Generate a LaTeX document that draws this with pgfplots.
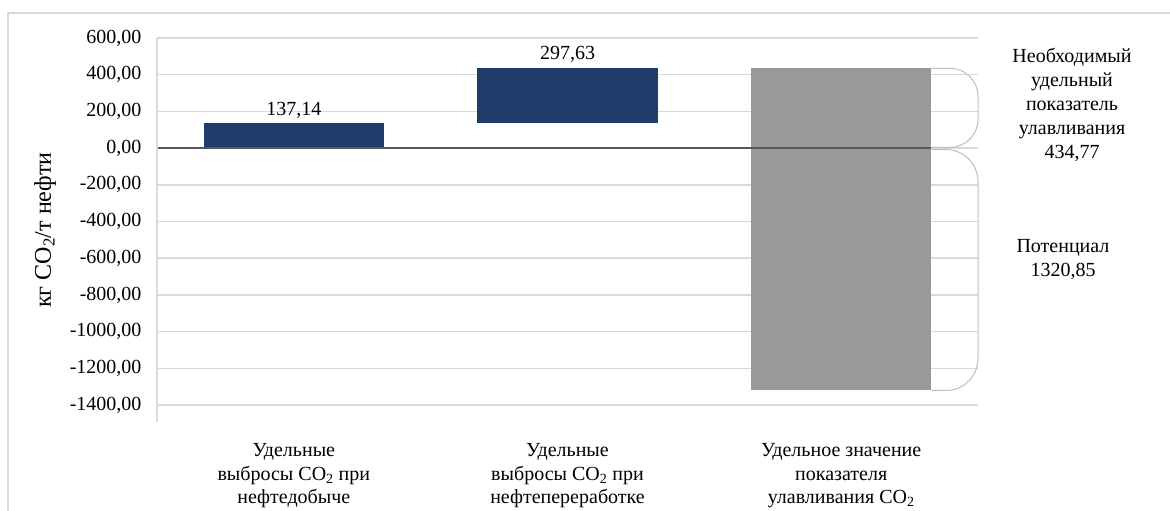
\documentclass[border=0pt]{standalone}
\usepackage{pgfplots}
\pgfplotsset{compat=1.18}
\usepackage{fontspec}
\setmainfont{Liberation Serif}
\definecolor{navy}{HTML}{1F3C6A}
\definecolor{bargray}{HTML}{97999B}
\definecolor{gridc}{HTML}{D9D9D9}
\definecolor{bracec}{HTML}{BDBDBD}
\begin{document}
\begin{tikzpicture}[x=1pt,y=1pt]
\useasboundingbox (0,0) rectangle (1170,511);
\draw[gridc, line width=1.5pt] (8,0) -- (8,498) -- (1170,498);
\begin{axis}[
  at={(157pt,106pt)}, anchor=south west,
  scale only axis, width=821pt, height=367pt,
  xmin=-0.5, xmax=2.5, ymin=-1400, ymax=600,
  clip=false,
  axis line style={draw=none},
  major tick length=0pt,
  ytick={-1400,-1200,...,600},
  xtick={0,1,2},
  xticklabels={{Удельные\\выбросы CO\textsubscript{2} при\\нефтедобыче},
               {Удельные\\выбросы CO\textsubscript{2} при\\нефтепереработке},
               {Удельное значение\\показателя\\улавливания CO\textsubscript{2}}},
  xticklabel style={align=center, font=\fontsize{20}{23.5}\selectfont, yshift=-35pt},
  yticklabel style={font=\fontsize{20}{24}\selectfont, xshift=-12pt, /pgf/number format/.cd, fixed, fixed zerofill, precision=2, use comma, 1000 sep={}},
  /pgf/number format/assume math mode=true,
  ymajorgrids,
  major grid style={gridc, line width=1.5pt},
]
\addplot[fill=navy, draw=none] coordinates {(-0.33,0) (0.33,0) (0.33,137.14) (-0.33,137.14)} -- cycle;
\addplot[fill=navy, draw=none] coordinates {(0.67,137.14) (1.33,137.14) (1.33,434.77) (0.67,434.77)} -- cycle;
\addplot[fill=bargray, draw=none] coordinates {(1.67,-1320.85) (2.33,-1320.85) (2.33,434.77) (1.67,434.77)} -- cycle;
\draw[black!65, line width=1.2pt] (axis cs:-0.5,0) -- (axis cs:2.33,0);
\draw[gridc, line width=1.5pt] (axis cs:-0.5,600) -- ([yshift=-17pt]axis cs:-0.5,-1400);
\draw[bracec, line width=1pt, rounded corners=28pt] (axis cs:2.33,434.77) -- (axis cs:2.5,434.77) -- (axis cs:2.5,4) -- (axis cs:2.33,4);
\draw[bracec, line width=1pt, rounded corners=32pt] (axis cs:2.33,-8) -- (axis cs:2.5,-8) -- (axis cs:2.5,-1320.85) -- (axis cs:2.33,-1320.85);
\node[anchor=south, font=\fontsize{20}{24}\selectfont, inner sep=4pt] at (axis cs:0,137.14) {137,14};
\node[anchor=south, font=\fontsize{20}{24}\selectfont, inner sep=6pt] at (axis cs:1,434.77) {297,63};
\end{axis}
\node[align=center, font=\fontsize{20}{24}\selectfont] at (1072,406) {Необходимый\\удельный\\показатель\\улавливания\\434,77};
\node[align=center, font=\fontsize{20}{24}\selectfont] at (1063,252) {Потенциал\\1320,85};
\node[rotate=90, font=\fontsize{24}{28}\selectfont] at (45,281) {кг CO\textsubscript{2}/т нефти};
\end{tikzpicture}
\end{document}
